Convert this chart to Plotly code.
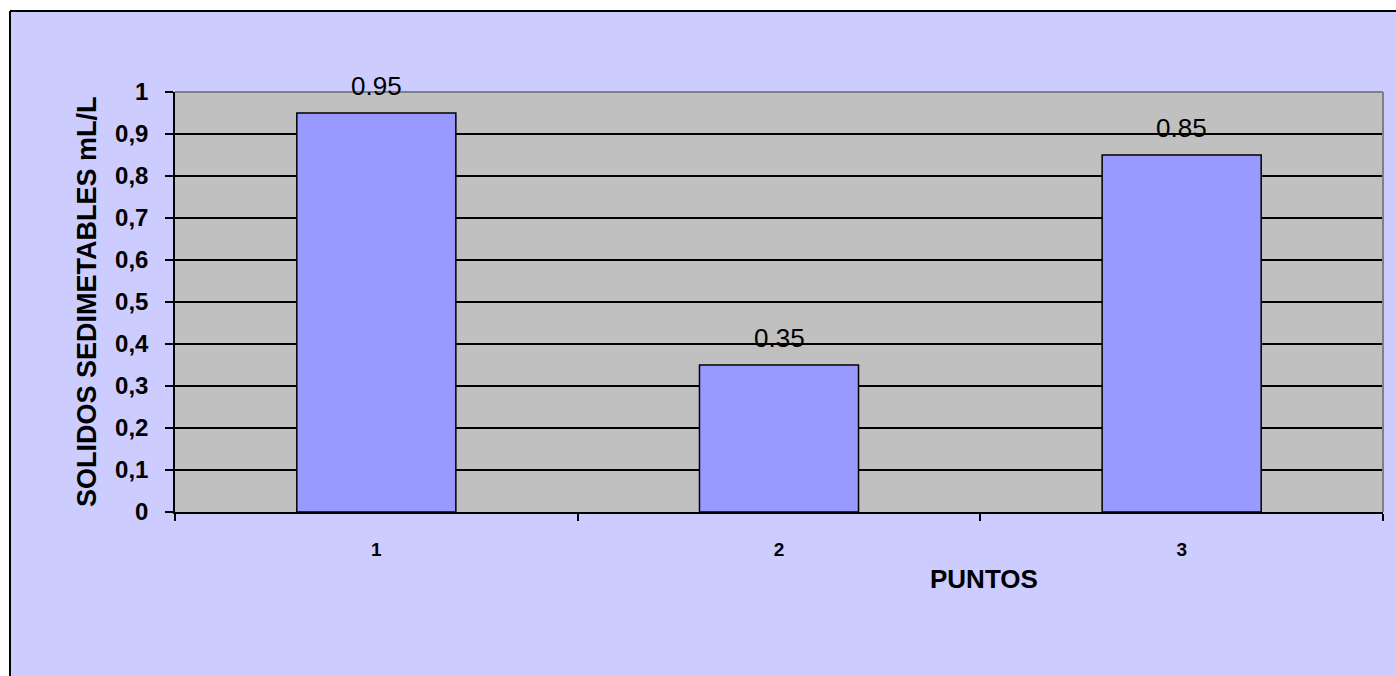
import plotly.graph_objects as go

# Data
puntos = ["1", "2", "3"]
solidos = [0.95, 0.35, 0.85]
y_title = "SOLIDOS SEDIMETABLES mL/L"
x_title = "PUNTOS"

# Figure geometry (pixels)
W, H = 1396, 676
L, R, T, B = 175, 13, 92, 164
PW, PH = W - L - R, H - T - B

FONT = "Arial, 'Liberation Sans', sans-serif"
LAVENDER = "#CCCCFF"
GRAY = "#C0C0C0"
BAR = "#9999FF"


def px_x(p):
    return (p - L) / PW


def px_y(p):
    return (H - B - p) / PH


fig = go.Figure(
    go.Bar(
        x=puntos,
        y=solidos,
        marker=dict(color=BAR, line=dict(color="black", width=1.5)),
        hoverinfo="skip",
    )
)

annotations = []
# value labels above each bar (category axis positions are indices)
for i, val in enumerate(solidos):
    annotations.append(
        dict(
            x=i, y=val, xref="x", yref="y",
            text=f"{val:.2f}", showarrow=False,
            yanchor="middle", yshift=27,
            font=dict(family=FONT, size=26, color="black"),
        )
    )

annotations.append(
    dict(
        x=px_x(87), y=0.5, xref="paper", yref="paper",
        text=y_title, textangle=-90, showarrow=False,
        xanchor="center", yanchor="middle",
        font=dict(family=FONT, size=27, color="black", weight="bold"),
    )
)
annotations.append(
    dict(
        x=px_x(984), y=px_y(579), xref="paper", yref="paper",
        text=x_title, showarrow=False,
        xanchor="center", yanchor="middle",
        font=dict(family=FONT, size=26, color="black", weight="bold"),
    )
)

shapes = [
    # white page margin around the chart area
    dict(type="rect", xref="paper", yref="paper",
         x0=px_x(0), x1=px_x(10), y0=px_y(H), y1=px_y(0),
         fillcolor="white", line=dict(width=0), layer="below"),
    dict(type="rect", xref="paper", yref="paper",
         x0=px_x(0), x1=px_x(W), y0=px_y(11), y1=px_y(0),
         fillcolor="white", line=dict(width=0), layer="below"),
    # chart area border (left and top)
    dict(type="line", xref="paper", yref="paper",
         x0=px_x(10), x1=px_x(10), y0=px_y(H), y1=px_y(11),
         line=dict(color="black", width=2)),
    dict(type="line", xref="paper", yref="paper",
         x0=px_x(10), x1=px_x(W), y0=px_y(11), y1=px_y(11),
         line=dict(color="black", width=2)),
    # gray plot-area border (top and right)
    dict(type="line", xref="paper", yref="paper",
         x0=0, x1=1, y0=1, y1=1,
         line=dict(color="#808080", width=2)),
    dict(type="line", xref="paper", yref="paper",
         x0=1, x1=1, y0=0, y1=1,
         line=dict(color="#808080", width=2)),
]

fig.update_layout(
    width=W, height=H,
    margin=dict(l=L, r=R, t=T, b=B, pad=0),
    paper_bgcolor=LAVENDER,
    plot_bgcolor=GRAY,
    bargap=0.605,
    showlegend=False,
    separators=",.",
    font=dict(family=FONT, color="black"),
    annotations=annotations,
    shapes=shapes,
    xaxis=dict(
        type="category",
        range=[-0.5, len(puntos) - 0.5],
        tickson="boundaries",
        ticks="outside", ticklen=7, tickwidth=1.5, tickcolor="black",
        showline=True, linecolor="black", linewidth=1.5,
        showgrid=False, zeroline=False,
        tickfont=dict(family=FONT, size=19, color="black", weight="bold"),
        ticklabelstandoff=19,
    ),
    yaxis=dict(
        range=[0, 1], tick0=0, dtick=0.1,
        ticks="outside", ticklen=8, tickwidth=1.5, tickcolor="black",
        showline=True, linecolor="black", linewidth=1.5,
        showgrid=True, gridcolor="black", gridwidth=1.5,
        zeroline=False,
        tickfont=dict(family=FONT, size=24, color="black", weight="bold"),
        ticklabelstandoff=12,
    ),
)

fig.write_html("out.html")
